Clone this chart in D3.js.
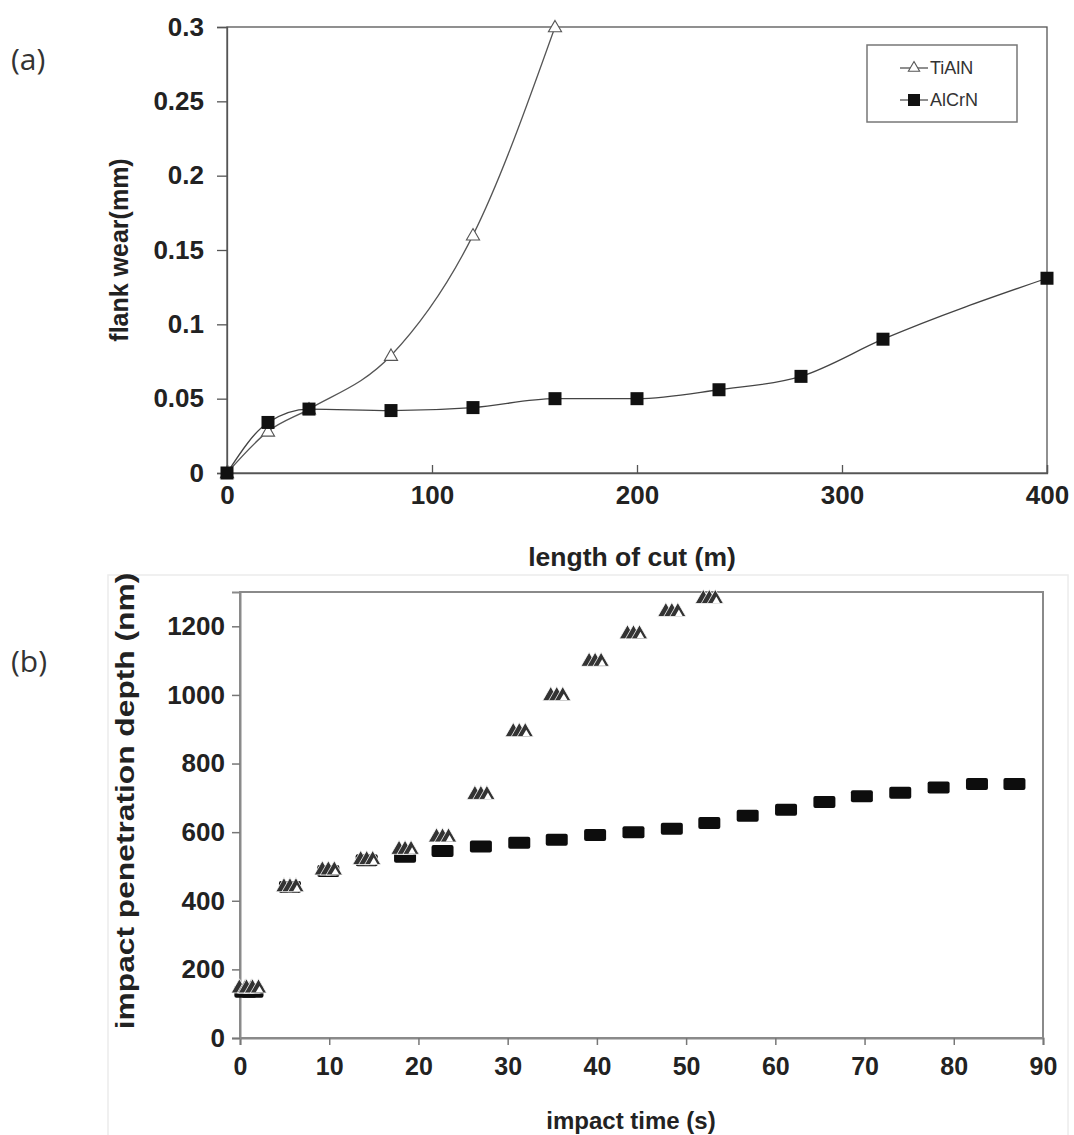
<!DOCTYPE html>
<html>
<head>
<meta charset="utf-8">
<script src="https://cdn.jsdelivr.net/npm/d3@7/dist/d3.min.js"></script>
<style>
  html, body { margin: 0; padding: 0; background: #fff; }
  svg { display: block; }
  .tick text { font-family: "Liberation Sans", Arial, sans-serif; font-weight: bold; }
</style>
</head>
<body>
<svg id="fig" width="1074" height="1135"></svg>
<script>
// (a) flank wear versus length of cut
const cutTicks = [0, 100, 200, 300, 400];
const wearTicks = [0, 0.05, 0.1, 0.15, 0.2, 0.25, 0.3];
const tialnCut = [0, 20, 40, 80, 120, 160];
const tialnWear = [0, 0.028, 0.043, 0.079, 0.16, 0.3];
const alcrnCut = [0, 20, 40, 80, 120, 160, 200, 240, 280, 320, 400];
const alcrnWear = [0, 0.034, 0.043, 0.042, 0.044, 0.05, 0.05, 0.056, 0.065, 0.09, 0.131];

// (b) impact penetration depth versus impact time
const timeTicks = [0, 10, 20, 30, 40, 50, 60, 70, 80, 90];
const depthTicks = [0, 200, 400, 600, 800, 1000, 1200];
const tialnTime = [0.6, 1.4, 5.6, 9.9, 14.2, 18.5, 22.7, 27.0, 31.3, 35.5, 39.8, 44.1, 48.4, 52.6];
const tialnDepth = [148, 148, 443, 492, 522, 552, 588, 712, 895, 1000, 1100, 1180, 1245, 1283];
const alcrnTime = [0.6, 1.4, 5.6, 9.9, 14.2, 18.5, 22.7, 27.0, 31.3, 35.5, 39.8, 44.1, 48.4, 52.6,
                   56.9, 61.2, 65.5, 69.7, 74.0, 78.3, 82.6, 86.8];
const alcrnDepth = [135, 135, 440, 487, 518, 528, 545, 558, 569, 578, 592, 600, 610, 627,
                    648, 665, 688, 705, 715, 730, 740, 740];

const FONT = '"Liberation Sans", Arial, sans-serif';
const svg = d3.select("#fig");

// ---------- panel (a) ----------
const A = { left: 227, right: 1047, top: 27, bottom: 473 };
const xA = d3.scaleLinear().domain([0, 400]).range([A.left, A.right]);
const yA = d3.scaleLinear().domain([0, 0.3]).range([A.bottom, A.top]);
const gA = svg.append("g");

// frame
gA.append("rect").attr("x", A.left).attr("y", A.top)
  .attr("width", A.right - A.left).attr("height", A.bottom - A.top)
  .attr("fill", "none").attr("stroke", "#555").attr("stroke-width", 1.3);

const axAx = gA.append("g").attr("transform", `translate(0,${A.bottom})`)
  .call(d3.axisTop(xA).tickValues(cutTicks).tickSize(8).tickFormat(d3.format("d")));
axAx.selectAll("text").attr("y", 31).attr("dy", 0).style("font-size", "26px").attr("fill", "#222");
const ayA = gA.append("g").attr("transform", `translate(${A.left},0)`)
  .call(d3.axisLeft(yA).tickValues(wearTicks).tickSize(10).tickFormat(d => d === 0 ? "0" : String(+d.toFixed(2))));
ayA.selectAll("text").attr("x", -23).style("font-size", "26px").attr("fill", "#222");
[axAx, ayA].forEach(g => {
  g.select(".domain").attr("stroke", "#555").attr("stroke-width", 1.3);
  g.selectAll(".tick line").attr("stroke", "#555").attr("stroke-width", 1.3);
});

const lineA = d3.line().x(d => xA(d[0])).y(d => yA(d[1])).curve(d3.curveMonotoneX);
const tialnA = tialnCut.map((c, i) => [c, tialnWear[i]]);
const alcrnA = alcrnCut.map((c, i) => [c, alcrnWear[i]]);

gA.append("path").attr("d", lineA(tialnA)).attr("fill", "none").attr("stroke", "#555").attr("stroke-width", 1.3);
gA.append("path").attr("d", lineA(alcrnA)).attr("fill", "none").attr("stroke", "#444").attr("stroke-width", 1.3);

const tri = d3.symbol().type(d3.symbolTriangle).size(75);
gA.selectAll(".triA").data(tialnA).join("path")
  .attr("transform", d => `translate(${xA(d[0])},${yA(d[1]) + 1})`)
  .attr("d", tri()).attr("fill", "#fff").attr("stroke", "#555").attr("stroke-width", 1.1);
gA.selectAll(".sqA").data(alcrnA).join("rect")
  .attr("x", d => xA(d[0]) - 6.5).attr("y", d => yA(d[1]) - 6.5)
  .attr("width", 13).attr("height", 13).attr("fill", "#111");

// legend
const lg = gA.append("g");
lg.append("rect").attr("x", 867).attr("y", 45).attr("width", 150).attr("height", 77)
  .attr("fill", "#fff").attr("stroke", "#777").attr("stroke-width", 1.5);
[["TiAlN", 68], ["AlCrN", 100]].forEach(([name, y], i) => {
  lg.append("line").attr("x1", 900).attr("x2", 928).attr("y1", y).attr("y2", y)
    .attr("stroke", "#444").attr("stroke-width", 1.2);
  if (i === 0) {
    lg.append("path").attr("transform", `translate(914,${y})`).attr("d", d3.symbol().type(d3.symbolTriangle).size(55)())
      .attr("fill", "#fff").attr("stroke", "#555").attr("stroke-width", 1.1);
  } else {
    lg.append("rect").attr("x", 908).attr("y", y - 6).attr("width", 12).attr("height", 12).attr("fill", "#111");
  }
  lg.append("text").attr("x", 930).attr("y", y + 6).text(name)
    .style("font-family", FONT).style("font-size", "18px").attr("fill", "#333");
});

// titles
gA.append("text").attr("transform", `translate(128,${(A.top + A.bottom) / 2}) rotate(-90)`)
  .attr("text-anchor", "middle").text("flank wear(mm)")
  .style("font-family", FONT).style("font-weight", "bold").style("font-size", "25px").attr("fill", "#222");
gA.append("text").attr("x", 632).attr("y", 566).attr("text-anchor", "middle").text("length of cut (m)")
  .style("font-family", FONT).style("font-weight", "bold").style("font-size", "26.5px").attr("fill", "#222");
svg.append("text").attr("x", 11).attr("y", 70).text("(a)")
  .style("font-family", '"Open Sans", sans-serif').style("font-size", "30px").attr("fill", "#333");

// ---------- panel (b) ----------
// faint panel outline
svg.append("rect").attr("x", 108).attr("y", 575).attr("width", 960).attr("height", 570)
  .attr("fill", "none").attr("stroke", "#ececec").attr("stroke-width", 1.5);

const B = { left: 240, right: 1043, top: 592, bottom: 1038 };
const xB = d3.scaleLinear().domain([0, 90]).range([B.left, B.right]);
const yB = d3.scaleLinear().domain([0, 1300]).range([B.bottom, B.top]);
const gB = svg.append("g");

gB.append("rect").attr("x", B.left).attr("y", B.top)
  .attr("width", B.right - B.left).attr("height", B.bottom - B.top)
  .attr("fill", "none").attr("stroke", "#8a8a8a").attr("stroke-width", 2);

const axB = gB.append("g").attr("transform", `translate(0,${B.bottom})`)
  .call(d3.axisBottom(xB).tickValues(timeTicks).tickSize(7).tickFormat(d3.format("d")));
axB.selectAll("text").attr("y", 19).attr("dy", "0.71em").style("font-size", "25px").attr("fill", "#222");
const ayB = gB.append("g").attr("transform", `translate(${B.left},0)`)
  .call(d3.axisLeft(yB).tickValues(depthTicks).tickSize(8).tickFormat(d3.format("d")));
ayB.selectAll("text").attr("x", -15).style("font-size", "26px").attr("fill", "#222");
[axB, ayB].forEach(g => {
  g.select(".domain").attr("stroke", "#8a8a8a").attr("stroke-width", 2);
  g.selectAll(".tick line").attr("stroke", "#777").attr("stroke-width", 1.5);
});

const alcrnB = alcrnTime.map((t, i) => [t, alcrnDepth[i]]);
const tialnB = tialnTime.map((t, i) => [t, tialnDepth[i]]);

// AlCrN: wide dark blocks
gB.selectAll(".sqB").data(alcrnB).join("rect")
  .attr("x", d => xB(d[0]) - 11).attr("y", d => yB(d[1]) - 6)
  .attr("width", 22).attr("height", 12).attr("rx", 2).attr("fill", "#0d0d0d");

// TiAlN: clusters of overlapping dark triangles with a white one at the right
const triB = d3.symbol().type(d3.symbolTriangle).size(115);
const tg = gB.selectAll(".triB").data(tialnB).join("g")
  .attr("transform", d => `translate(${xB(d[0])},${yB(d[1])})`);
[-6, 0, 6].forEach(dx => {
  tg.append("path").attr("transform", `translate(${dx},1)`).attr("d", triB())
    .attr("fill", "#333").attr("stroke", "#fff").attr("stroke-width", 0.8);
});
tg.append("path").attr("transform", "translate(7,3)")
  .attr("d", d3.symbol().type(d3.symbolTriangle).size(24)()).attr("fill", "#fff");

gB.append("text").attr("transform", `translate(134,${(B.top + B.bottom) / 2 - 14}) rotate(-90) scale(1.22,1)`)
  .attr("text-anchor", "middle").text("impact penetration depth (nm)")
  .style("font-family", FONT).style("font-weight", "bold").style("font-size", "26px").attr("fill", "#222");
gB.append("text").attr("x", 631).attr("y", 1129).attr("text-anchor", "middle").text("impact time (s)")
  .style("font-family", FONT).style("font-weight", "bold").style("font-size", "24px").attr("fill", "#222");
svg.append("text").attr("x", 11).attr("y", 672).text("(b)")
  .style("font-family", '"Open Sans", sans-serif').style("font-size", "30px").attr("fill", "#333");
</script>
</body>
</html>
